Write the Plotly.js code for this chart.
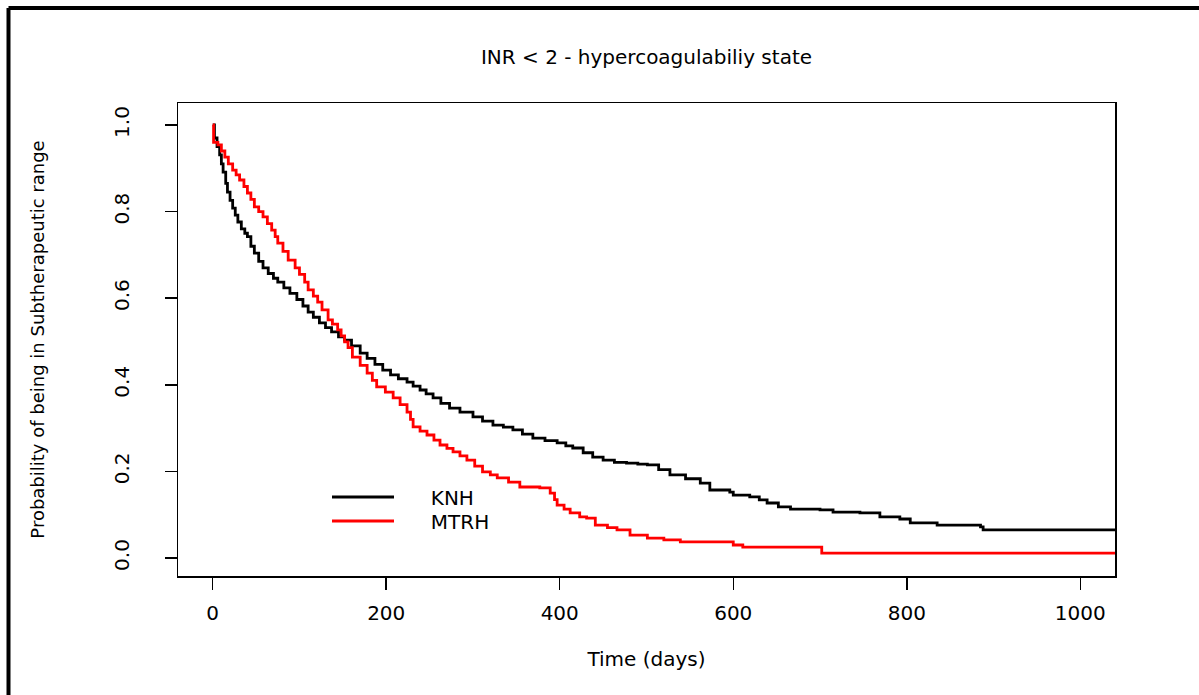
<!DOCTYPE html>
<html>
<head>
<meta charset="utf-8">
<script src="https://cdn.plot.ly/plotly-3.0.1.min.js"></script>
<style>
  html, body { margin: 0; padding: 0; background: #fff; }
  #chart { width: 1199px; height: 695px; }
</style>
</head>
<body>
<div id="chart"></div>
<script>
// ---- data ----
const seriesNames = ["KNH", "MTRH"];

const knhTime = [0, 2, 5, 8, 10, 12, 15, 17, 20, 23, 26, 29, 33, 37, 40, 44, 48, 53, 58, 64, 70, 75, 82, 89, 97, 104, 110, 116, 123, 130, 137, 145, 152, 160, 170, 178, 187, 196, 205, 214, 224, 231, 239, 246, 254, 263, 273, 285, 300, 311, 323, 335, 346, 357, 369, 383, 397, 407, 415, 427, 438, 450, 463, 477, 490, 501, 514, 527, 545, 562, 573, 596, 600, 619, 630, 639, 652, 666, 700, 715, 746, 769, 792, 804, 835, 885, 888, 1040];
const knhSurv = [1.0, 0.97, 0.95, 0.931, 0.91, 0.891, 0.865, 0.845, 0.826, 0.808, 0.792, 0.776, 0.76, 0.75, 0.742, 0.72, 0.704, 0.685, 0.670, 0.657, 0.646, 0.637, 0.624, 0.611, 0.597, 0.582, 0.568, 0.556, 0.543, 0.532, 0.522, 0.511, 0.503, 0.490, 0.473, 0.461, 0.447, 0.434, 0.423, 0.414, 0.406, 0.397, 0.388, 0.379, 0.370, 0.357, 0.346, 0.337, 0.326, 0.316, 0.307, 0.302, 0.296, 0.286, 0.277, 0.271, 0.266, 0.259, 0.254, 0.243, 0.233, 0.226, 0.221, 0.219, 0.217, 0.215, 0.204, 0.192, 0.183, 0.173, 0.157, 0.152, 0.145, 0.141, 0.134, 0.127, 0.118, 0.113, 0.111, 0.106, 0.104, 0.095, 0.090, 0.081, 0.076, 0.072, 0.065, 0.065];

const mtrhTime = [0, 1, 6, 10, 14, 18, 23, 27, 31, 36, 40, 44, 48, 53, 58, 63, 68, 72, 75, 81, 87, 95, 100, 106, 110, 116, 121, 126, 133, 138, 144, 148, 152, 156, 161, 170, 178, 184, 189, 199, 208, 216, 224, 228, 231, 239, 247, 255, 262, 270, 277, 285, 293, 302, 311, 320, 328, 341, 354, 377, 389, 394, 397, 405, 412, 423, 431, 441, 455, 466, 481, 501, 520, 539, 600, 611, 702, 1040];
const mtrhSurv = [1.0, 0.96, 0.954, 0.94, 0.926, 0.91, 0.896, 0.885, 0.873, 0.858, 0.843, 0.828, 0.811, 0.80, 0.788, 0.772, 0.757, 0.742, 0.727, 0.708, 0.688, 0.670, 0.655, 0.637, 0.619, 0.605, 0.591, 0.573, 0.550, 0.540, 0.527, 0.513, 0.499, 0.486, 0.464, 0.445, 0.427, 0.41, 0.395, 0.383, 0.370, 0.354, 0.337, 0.32, 0.303, 0.293, 0.284, 0.272, 0.261, 0.253, 0.245, 0.236, 0.226, 0.212, 0.199, 0.192, 0.185, 0.175, 0.164, 0.162, 0.150, 0.135, 0.122, 0.113, 0.104, 0.095, 0.092, 0.076, 0.07, 0.065, 0.053, 0.046, 0.042, 0.037, 0.030, 0.025, 0.011, 0.011];

const xTickVals = [0, 200, 400, 600, 800, 1000];
const yTickVals = [0, 0.2, 0.4, 0.6, 0.8, 1.0];
const yTickText = ["0.0", "0.2", "0.4", "0.6", "0.8", "1.0"];

const titleText = "INR &lt; 2 - hypercoagulabiliy state";
const xTitle = "Time (days)";
const yTitle = "Probability of being in Subtherapeutic range";

// ---- chart ----
const FONT = "DejaVu Sans, Liberation Sans, Arial, sans-serif";
const PAD = "&nbsp;&nbsp;&nbsp;&nbsp;&nbsp;";

const traces = [
  { x: knhTime, y: knhSurv, name: PAD + seriesNames[0], type: "scatter", mode: "lines",
    legend: "legend", line: { color: "#000000", width: 2.8, shape: "hv" } },
  { x: mtrhTime, y: mtrhSurv, name: PAD + seriesNames[1], type: "scatter", mode: "lines",
    legend: "legend2", line: { color: "#ff0000", width: 2.8, shape: "hv" } }
];

const legendCommon = {
  xanchor: "left", yanchor: "middle", bgcolor: "rgba(0,0,0,0)", borderwidth: 0,
  font: { family: FONT, size: 20, color: "#000" }, itemwidth: 62, tracegroupgap: 0
};

const layout = {
  width: 1199, height: 695,
  margin: { l: 178, r: 84, t: 103, b: 119, pad: 0 },
  paper_bgcolor: "#ffffff", plot_bgcolor: "#ffffff",
  font: { family: FONT, color: "#000000", size: 20 },
  showlegend: true,
  title: { text: titleText, x: 0.5, xref: "paper", xanchor: "center",
           y: 1 - 57 / 695, yref: "container", yanchor: "middle",
           font: { family: FONT, size: 20, color: "#000" } },
  xaxis: {
    range: [-40, 1040], tickvals: xTickVals, ticktext: xTickVals.map(String),
    showgrid: false, zeroline: false, showline: true, mirror: true,
    linecolor: "#000", linewidth: 1.5, ticks: "outside", ticklen: 12, tickwidth: 1.5, tickcolor: "#000",
    tickfont: { family: FONT, size: 20 }, ticklabelstandoff: 6,
    title: { text: xTitle, font: { family: FONT, size: 20 }, standoff: 28 }
  },
  yaxis: {
    range: [-0.0416, 1.0508], tickvals: yTickVals, ticktext: yTickText,
    showgrid: false, zeroline: false, showline: true, mirror: true,
    linecolor: "#000", linewidth: 1.5, ticks: "outside", ticklen: 12, tickwidth: 1.5, tickcolor: "#000",
    tickangle: -90, tickfont: { family: FONT, size: 20 }, ticklabelstandoff: 28,
    title: { text: yTitle, font: { family: FONT, size: 18 }, standoff: 60 }
  },
  legend: Object.assign({}, legendCommon, { x: (327 - 178) / 937, y: (576 - 497) / 473 }),
  legend2: Object.assign({}, legendCommon, { x: (327 - 178) / 937, y: (576 - 521) / 473 }),
  shapes: [
    { type: "line", xref: "paper", yref: "paper", x0: -0.1809, x1: 1.09, y0: 1.2008, y1: 1.2008,
      line: { color: "#000", width: 4 } },
    { type: "line", xref: "paper", yref: "paper", x0: -0.1809, x1: -0.1809, y0: 1.2008, y1: -0.26,
      line: { color: "#000", width: 4 } }
  ]
};

Plotly.newPlot("chart", traces, layout, { staticPlot: true, displayModeBar: false });
</script>
</body>
</html>
